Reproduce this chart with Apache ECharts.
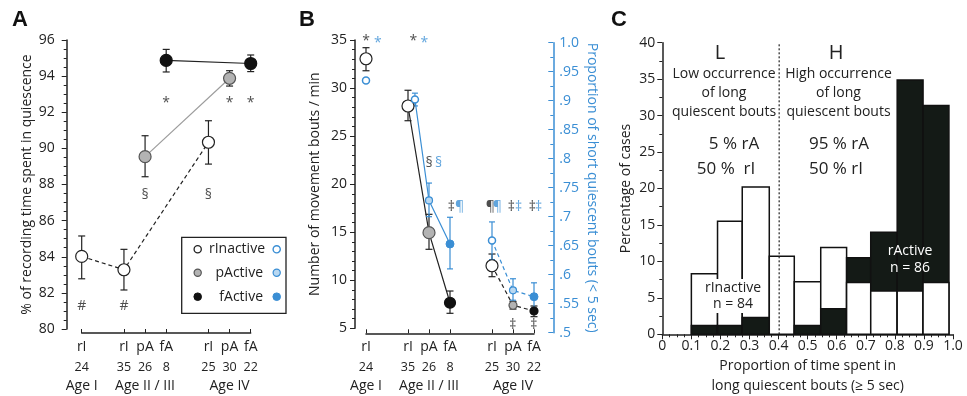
<!DOCTYPE html>
<html><head><meta charset="utf-8">
<script src="https://cdn.jsdelivr.net/npm/echarts@6/dist/echarts.min.js"></script>
<style>html,body{margin:0;padding:0;background:#fff}#c{width:967px;height:396px}</style>
</head><body><div id="c"></div>
<script>
// ---------- shared category layout (panels A & B) ----------
const catPos = [0, 2, 3, 4, 6, 7, 8];
const catLabels = ['rI', 'rI', 'pA', 'fA', 'rI', 'pA', 'fA'];
const catN = ['24', '35', '26', '8', '25', '30', '22'];
const agePos = [0, 3, 7];
const ageLabels = ['Age I', 'Age II / III', 'Age IV'];

// ---------- Panel A: % of recording time in quiescence ----------
const aRI_x = [0, 2, 6], aRI_y = [84.02, 83.28, 90.34], aRI_lo = [82.78, 82.16, 89.13], aRI_hi = [85.15, 84.41, 91.53];
const aPA_x = [3, 7], aPA_y = [89.54, 93.88], aPA_lo = [88.43, 93.45], aPA_hi = [90.7, 94.3];
const aFA_x = [4, 8], aFA_y = [94.87, 94.7], aFA_lo = [94.23, 94.25], aFA_hi = [95.48, 95.17];
const aAnnot = ['*', '*', '*', '§', '§', '#', '#'];
const aAnnot_x = [4, 7, 8, 3, 6, 0, 2];
const aAnnot_y = [92.5, 92.5, 92.5, 87.4, 87.4, 81.3, 81.3];

// ---------- Panel B: movement bouts (black, left) ----------
const bRI_x = [0, 2, 6], bRI_y = [33.05, 28.13, 11.51], bRI_lo = [31.8, 26.6, 10.37], bRI_hi = [34.2, 29.77, 12.73];
const bPA_x = [3, 7], bPA_y = [14.95, 7.4], bPA_lo = [13.22, 7.0], bPA_hi = [16.86, 7.8];
const bFA_x = [4, 8], bFA_y = [7.66, 6.8], bFA_lo = [6.56, 6.21], bFA_hi = [8.88, 7.32];
// ---------- Panel B: proportion of short quiescent bouts (blue, right) ----------
const cRI_x = [0, 2.33, 6], cRI_y = [0.935, 0.902, 0.659], cRI_lo = [0.935, 0.891, 0.626], cRI_hi = [0.935, 0.913, 0.691];
const cPA_x = [3, 7], cPA_y = [0.728, 0.573], cPA_lo = [0.70, 0.556], cPA_hi = [0.758, 0.593];
const cFA_x = [4, 8], cFA_y = [0.653, 0.562], cFA_lo = [0.61, 0.542], cFA_hi = [0.699, 0.586];
const bAnnot = ['*', '*', '§', '‡', '¶', '‡', '‡', '‡', '‡'];
const bAnnot_x = [0, 2.25, 3.01, 4.06, 5.92, 6.92, 7.92, 6.99, 7.99];
const bAnnot_y = [34.9, 34.9, 22.2, 17.6, 17.6, 17.6, 17.6, 5.34, 5.34];
const cAnnot = ['*', '*', '§', '¶', '¶', '‡', '‡'];
const cAnnot_x = [0.56, 2.78, 3.46, 4.46, 6.25, 7.27, 8.22];
const cAnnot_y = [0.999, 0.999, 0.792, 0.716, 0.716, 0.716, 0.716];

// ---------- Panel C: histogram ----------
const binEdges = [0.100, 0.190, 0.275, 0.368, 0.454, 0.545, 0.634, 0.717, 0.808, 0.897, 0.986];
const rInactivePct = [8.3, 15.5, 20.2, 10.7, 7.2, 11.9, 7.1, 5.95, 5.95, 7.1];
const rActivePct = [1.2, 1.2, 2.3, 0, 1.2, 3.5, 10.5, 14.0, 34.9, 31.4];
const cutoff = 0.402;

const INK = '#222', BLUE = '#3a8ed4', LBLUE = '#b9d8f1', GRAY = '#b3b3b3', FONT = 'Open Sans';

const zip = (xs, ys) => xs.map((x, i) => [x, ys[i]]);
const zip3 = (xs, lo, hi) => xs.map((x, i) => [x, lo[i], hi[i]]);

function errSeries(xi, yi, data, color, cap) {
  return {
    type: 'custom', xAxisIndex: xi, yAxisIndex: yi, z: 3, silent: true,
    encode: { x: 0, y: [1, 2] }, data,
    renderItem(params, api) {
      const x = api.value(0), lo = api.value(1), hi = api.value(2);
      if (lo === hi) return null;
      const p1 = api.coord([x, lo]), p2 = api.coord([x, hi]);
      const st = { stroke: color, lineWidth: 1.2 };
      return { type: 'group', children: [
        { type: 'line', shape: { x1: p1[0], y1: p1[1], x2: p2[0], y2: p2[1] }, style: st },
        { type: 'line', shape: { x1: p1[0] - cap, y1: p1[1], x2: p1[0] + cap, y2: p1[1] }, style: st },
        { type: 'line', shape: { x1: p2[0] - cap, y1: p2[1], x2: p2[0] + cap, y2: p2[1] }, style: st }
      ]};
    }
  };
}
function lineSeries(xi, yi, data, color, dashed) {
  return { type: 'line', xAxisIndex: xi, yAxisIndex: yi, data, symbol: 'none', clip: false, z: 2, silent: true,
    lineStyle: { color, width: 1.2, type: dashed ? [4, 3] : 'solid' } };
}
function markSeries(xi, yi, data, fill, stroke, size, bw) {
  return { type: 'scatter', xAxisIndex: xi, yAxisIndex: yi, data, z: 5, clip: false, silent: true,
    symbol: 'circle', symbolSize: size,
    itemStyle: { color: fill, borderColor: stroke, borderWidth: bw || 1.2, opacity: 1 } };
}
function annotSeries(xi, yi, labels, xs, ys, color, fs) {
  return { type: 'scatter', xAxisIndex: xi, yAxisIndex: yi, z: 6, silent: true, symbolSize: 0.01, clip: false,
    itemStyle: { color: 'rgba(0,0,0,0)' },
    label: { show: true, position: 'inside', formatter: p => p.name, color, fontSize: fs || 14, fontFamily: FONT },
    data: labels.map((t, i) => ({ name: t, value: [xs[i], ys[i]] })) };
}

const catLabelFmt = v => {
  const i = catPos.indexOf(v);
  return i < 0 ? '' : '{c|' + catLabels[i] + '}\n{n|' + catN[i] + '}';
};
const catRich = {
  c: { fontSize: 14, lineHeight: 20, color: INK, fontFamily: FONT },
  n: { fontSize: 12.5, lineHeight: 20, color: INK, fontFamily: FONT }
};
function catXAxis(gi, off) {
  return { gridIndex: gi, type: 'value', min: 0, max: 8, offset: off,
    axisLine: { show: true, onZero: false, lineStyle: { color: INK, width: 1.5 } },
    axisTick: { show: true, inside: true, length: 4, customValues: catPos, lineStyle: { color: INK } },
    axisLabel: { show: true, customValues: catPos, formatter: catLabelFmt, rich: catRich, margin: 4,
      showMaxLabel: true, showMinLabel: true, hideOverlap: false },
    splitLine: { show: false } };
}
function ageXAxis(gi, off) {
  return { gridIndex: gi, type: 'value', position: 'bottom', min: 0, max: 8, offset: off,
    axisLine: { show: false, onZero: false }, axisTick: { show: false }, splitLine: { show: false },
    axisLabel: { show: true, customValues: agePos, margin: 43, fontSize: 14, color: INK, lineHeight: 20,
      showMaxLabel: true, showMinLabel: true, hideOverlap: false,
      formatter: v => { const i = agePos.indexOf(v); return i < 0 ? '' : ageLabels[i]; } } };
}
const axisName = { fontSize: 14, color: INK, fontFamily: FONT };

const option = {
  animation: false,
  textStyle: { fontFamily: FONT },
  grid: [
    { left: 81.7, top: 40, width: 169, height: 289, outerBoundsMode: 'none', containLabel: false },
    { left: 366, top: 40, width: 168, height: 288.3, outerBoundsMode: 'none', containLabel: false },
    { left: 366, top: 42.7, width: 168, height: 290, outerBoundsMode: 'none', containLabel: false },
    { left: 662.3, top: 42.7, width: 290.7, height: 291.6, outerBoundsMode: 'none', containLabel: false }
  ],
  xAxis: [
    catXAxis(0, 4),
    catXAxis(1, 5),
    { gridIndex: 2, type: 'value', min: 0, max: 8, show: false },
    { gridIndex: 3, type: 'value', min: 0, max: 1, interval: 0.1,
      axisLine: { onZero: false, lineStyle: { color: INK, width: 1.5 } },
      axisTick: { length: 5, lineStyle: { color: INK } },
      minorTick: { show: true, splitNumber: 4, length: 3, lineStyle: { color: INK } },
      axisLabel: { fontSize: 14, color: INK, margin: 5, formatter: v => v === 0 ? '0' : v.toFixed(1) },
      splitLine: { show: false },
      name: 'Proportion of time spent in\nlong quiescent bouts (≥ 5 sec)', nameLocation: 'middle', nameGap: 22,
      nameMoveOverlap: false,
      nameTextStyle: Object.assign({ lineHeight: 20, verticalAlign: 'top' }, axisName) },
    ageXAxis(0, 4),
    ageXAxis(1, 5)
  ],
  yAxis: [
    { gridIndex: 0, type: 'value', min: 80, max: 96, interval: 2, offset: 15,
      axisLine: { show: true, onZero: false, lineStyle: { color: INK, width: 1.5 } },
      axisTick: { show: true, length: 5, lineStyle: { color: INK } },
      minorTick: { show: true, splitNumber: 4, length: 3, lineStyle: { color: INK } },
      axisLabel: { fontSize: 14, color: INK, margin: 12 }, splitLine: { show: false },
      name: '% of recording time spent in quiescence', nameLocation: 'middle', nameGap: 33, nameMoveOverlap: false,
      nameTextStyle: axisName },
    { gridIndex: 1, type: 'value', min: 5, max: 35, interval: 5, offset: 11,
      axisLine: { show: true, onZero: false, lineStyle: { color: INK, width: 1.5 } },
      axisTick: { show: true, length: 5, lineStyle: { color: INK } },
      minorTick: { show: true, splitNumber: 5, length: 3, lineStyle: { color: INK } },
      axisLabel: { fontSize: 14, color: INK, margin: 8 }, splitLine: { show: false },
      name: 'Number of movement bouts / min', nameLocation: 'middle', nameGap: 33, nameMoveOverlap: false,
      nameTextStyle: axisName },
    { gridIndex: 2, type: 'value', position: 'right', min: 0.5, max: 1.0, interval: 0.05, offset: 19.3,
      axisLine: { show: true, onZero: false, lineStyle: { color: BLUE, width: 1.5 } },
      axisTick: { show: true, inside: true, length: 5, lineStyle: { color: BLUE } },
      minorTick: { show: true, splitNumber: 2, length: 3, lineStyle: { color: BLUE } },
      axisLabel: { fontSize: 14, color: BLUE, margin: 6,
        formatter: v => v >= 0.999 ? '1.0' : String(+v.toFixed(2)).replace(/^0/, '') },
      splitLine: { show: false },
      name: 'Proportion of short quiescent bouts (< 5 sec)', nameLocation: 'middle', nameGap: 31.5, nameRotate: -90,
      nameMoveOverlap: false,
      nameTextStyle: { fontSize: 14, color: BLUE, fontFamily: FONT } },
    { gridIndex: 3, type: 'value', min: 0, max: 40, interval: 5,
      axisLine: { show: true, onZero: false, lineStyle: { color: INK, width: 1.5 } },
      axisTick: { show: true, length: 5, lineStyle: { color: INK } },
      minorTick: { show: true, splitNumber: 2, length: 3, lineStyle: { color: INK } },
      axisLabel: { fontSize: 14, color: INK, margin: 7 }, splitLine: { show: false },
      name: 'Percentage of cases', nameLocation: 'middle', nameGap: 29, nameMoveOverlap: false,
      nameTextStyle: axisName }
  ],
  series: [
    // ---- Panel A ----
    lineSeries(0, 0, zip(aRI_x, aRI_y), INK, true),
    lineSeries(0, 0, zip(aPA_x, aPA_y), '#9c9c9c', false),
    lineSeries(0, 0, zip(aFA_x, aFA_y), INK, false),
    errSeries(0, 0, zip3(aRI_x, aRI_lo, aRI_hi), INK, 3.5),
    errSeries(0, 0, zip3(aPA_x, aPA_lo, aPA_hi), INK, 3.5),
    errSeries(0, 0, zip3(aFA_x, aFA_lo, aFA_hi), INK, 3.5),
    markSeries(0, 0, zip(aRI_x, aRI_y), '#fff', INK, 12),
    markSeries(0, 0, zip(aPA_x, aPA_y), GRAY, '#555', 12),
    markSeries(0, 0, zip(aFA_x, aFA_y), '#111', '#111', 12),
    annotSeries(0, 0, aAnnot, aAnnot_x, aAnnot_y, INK, 14),
    // ---- Panel B black ----
    lineSeries(1, 1, [[bRI_x[1], bRI_y[1]], [bPA_x[0], bPA_y[0]], [bFA_x[0], bFA_y[0]]], INK, false),
    lineSeries(1, 1, [[bRI_x[2], bRI_y[2]], [bPA_x[1], bPA_y[1]], [bFA_x[1], bFA_y[1]]], INK, true),
    errSeries(1, 1, zip3(bRI_x, bRI_lo, bRI_hi), INK, 3.5),
    errSeries(1, 1, zip3(bPA_x, bPA_lo, bPA_hi), INK, 3.5),
    errSeries(1, 1, zip3(bFA_x, bFA_lo, bFA_hi), INK, 3.5),
    markSeries(1, 1, zip(bRI_x, bRI_y), '#fff', INK, 12),
    markSeries(1, 1, zip(bPA_x, bPA_y), GRAY, '#555', (v, p) => p.dataIndex === 0 ? 12 : 8),
    markSeries(1, 1, zip(bFA_x, bFA_y), '#111', '#111', (v, p) => p.dataIndex === 0 ? 11 : 8),
    annotSeries(1, 1, bAnnot, bAnnot_x, bAnnot_y, INK, 14),
    // ---- Panel B blue ----
    lineSeries(2, 2, [[cRI_x[1], cRI_y[1]], [cPA_x[0], cPA_y[0]], [cFA_x[0], cFA_y[0]]], BLUE, false),
    lineSeries(2, 2, [[cRI_x[2], cRI_y[2]], [cPA_x[1], cPA_y[1]], [cFA_x[1], cFA_y[1]]], BLUE, true),
    errSeries(2, 2, zip3(cRI_x, cRI_lo, cRI_hi), BLUE, 3),
    errSeries(2, 2, zip3(cPA_x, cPA_lo, cPA_hi), BLUE, 3),
    errSeries(2, 2, zip3(cFA_x, cFA_lo, cFA_hi), BLUE, 3),
    markSeries(2, 2, zip(cRI_x, cRI_y), '#fff', BLUE, 7, 1.5),
    markSeries(2, 2, zip(cPA_x, cPA_y), LBLUE, BLUE, 7, 1.2),
    markSeries(2, 2, zip(cFA_x, cFA_y), BLUE, BLUE, 8, 1),
    annotSeries(2, 2, cAnnot, cAnnot_x, cAnnot_y, BLUE, 14),
    // ---- Panel C ----
    { type: 'custom', xAxisIndex: 3, yAxisIndex: 3, z: 2, silent: true,
      encode: { x: [0, 1], y: [2, 3] },
      data: rInactivePct.map((v, i) => [binEdges[i], binEdges[i + 1], v, rActivePct[i]]),
      renderItem(params, api) {
        const x0 = api.value(0), x1 = api.value(1), a = api.value(2), b = api.value(3);
        const rect = (h, fill) => {
          const p0 = api.coord([x0, 0]), p1 = api.coord([x1, h]);
          return { type: 'rect', shape: { x: p0[0], y: p1[1], width: p1[0] - p0[0], height: p0[1] - p1[1] },
            style: { fill, stroke: '#111', lineWidth: 1.5 } };
        };
        const w = a > 0 ? rect(a, '#fff') : null, k = b > 0 ? rect(b, '#141a16') : null;
        const ch = (a >= b ? [w, k] : [k, w]).filter(Boolean);
        return { type: 'group', children: ch };
      } },
    { type: 'line', xAxisIndex: 3, yAxisIndex: 3, z: 3, symbol: 'none', silent: true,
      data: [[cutoff, 0], [cutoff, 40]], lineStyle: { color: INK, width: 1.2, type: [2, 2] } }
  ],
  graphic: [
    // panel letters
    { type: 'text', style: { text: 'A', x: 12, y: 9, fontSize: 22, fontWeight: 'bold', fontFamily: 'Liberation Sans', fill: '#111' } },
    { type: 'text', style: { text: 'B', x: 299, y: 9, fontSize: 22, fontWeight: 'bold', fontFamily: 'Liberation Sans', fill: '#111' } },
    { type: 'text', style: { text: 'C', x: 611, y: 9, fontSize: 22, fontWeight: 'bold', fontFamily: 'Liberation Sans', fill: '#111' } },
    // legend panel A
    { type: 'rect', shape: { x: 181.7, y: 237.3, width: 104.3, height: 76 }, style: { fill: '#fff', stroke: INK, lineWidth: 1.3 }, z: 10 },
    { type: 'circle', shape: { cx: 197.7, cy: 249.3, r: 3.6 }, style: { fill: '#fff', stroke: INK, lineWidth: 1.3 }, z: 11 },
    { type: 'circle', shape: { cx: 197.7, cy: 272.7, r: 3.6 }, style: { fill: GRAY, stroke: '#555', lineWidth: 1.2 }, z: 11 },
    { type: 'circle', shape: { cx: 197.7, cy: 296.7, r: 3.8 }, style: { fill: '#111', stroke: '#111', lineWidth: 1 }, z: 11 },
    { type: 'circle', shape: { cx: 276.7, cy: 249.3, r: 3.6 }, style: { fill: '#fff', stroke: BLUE, lineWidth: 1.4 }, z: 11 },
    { type: 'circle', shape: { cx: 276.7, cy: 272.7, r: 3.6 }, style: { fill: LBLUE, stroke: BLUE, lineWidth: 1.2 }, z: 11 },
    { type: 'circle', shape: { cx: 276.7, cy: 296.7, r: 3.8 }, style: { fill: BLUE, stroke: BLUE, lineWidth: 1 }, z: 11 },
    { type: 'text', z: 11, style: { text: 'rInactive', x: 265, y: 249.3, align: 'right', verticalAlign: 'middle', fontSize: 14, fontFamily: FONT, fill: INK } },
    { type: 'text', z: 11, style: { text: 'pActive', x: 263, y: 272.7, align: 'right', verticalAlign: 'middle', fontSize: 14, fontFamily: FONT, fill: INK } },
    { type: 'text', z: 11, style: { text: 'fActive', x: 263, y: 296.7, align: 'right', verticalAlign: 'middle', fontSize: 14, fontFamily: FONT, fill: INK } },
    // panel C annotations
    { type: 'text', z: 11, style: { text: 'L', x: 720, y: 53, align: 'center', verticalAlign: 'middle', fontSize: 20, fontFamily: FONT, fill: INK } },
    { type: 'text', z: 11, style: { text: 'H', x: 836, y: 53, align: 'center', verticalAlign: 'middle', fontSize: 20, fontFamily: FONT, fill: INK } },
    { type: 'text', z: 11, style: { text: 'Low occurrence\nof long\nquiescent bouts', x: 724, y: 93, align: 'center', verticalAlign: 'middle', lineHeight: 19, fontSize: 14, fontFamily: FONT, fill: INK } },
    { type: 'text', z: 11, style: { text: 'High occurrence\nof long\nquiescent bouts', x: 838.5, y: 93, align: 'center', verticalAlign: 'middle', lineHeight: 19, fontSize: 14, fontFamily: FONT, fill: INK } },
    { type: 'text', z: 11, style: { text: '5 % rA', x: 734, y: 144, align: 'center', verticalAlign: 'middle', fontSize: 17, fontFamily: FONT, fill: INK } },
    { type: 'text', z: 11, style: { text: '50 %  rI', x: 726, y: 169, align: 'center', verticalAlign: 'middle', fontSize: 17, fontFamily: FONT, fill: INK } },
    { type: 'text', z: 11, style: { text: '95 % rA', x: 839, y: 144, align: 'center', verticalAlign: 'middle', fontSize: 17, fontFamily: FONT, fill: INK } },
    { type: 'text', z: 11, style: { text: '50 % rI', x: 836, y: 169, align: 'center', verticalAlign: 'middle', fontSize: 17, fontFamily: FONT, fill: INK } },
    { type: 'text', z: 11, style: { text: 'rInactive\nn = 84', x: 733, y: 296, align: 'center', verticalAlign: 'middle', lineHeight: 16, fontSize: 14, fontFamily: FONT, fill: INK, backgroundColor: '#fff', padding: [1, 2] } },
    { type: 'text', z: 11, style: { text: 'rActive\nn = 86', x: 910, y: 260, align: 'center', verticalAlign: 'middle', lineHeight: 17, fontSize: 14, fontFamily: FONT, fill: '#fff' } }
  ]
};
const chart = echarts.init(document.getElementById('c'), null, { renderer: 'canvas' });
chart.setOption(option);
</script></body></html>
